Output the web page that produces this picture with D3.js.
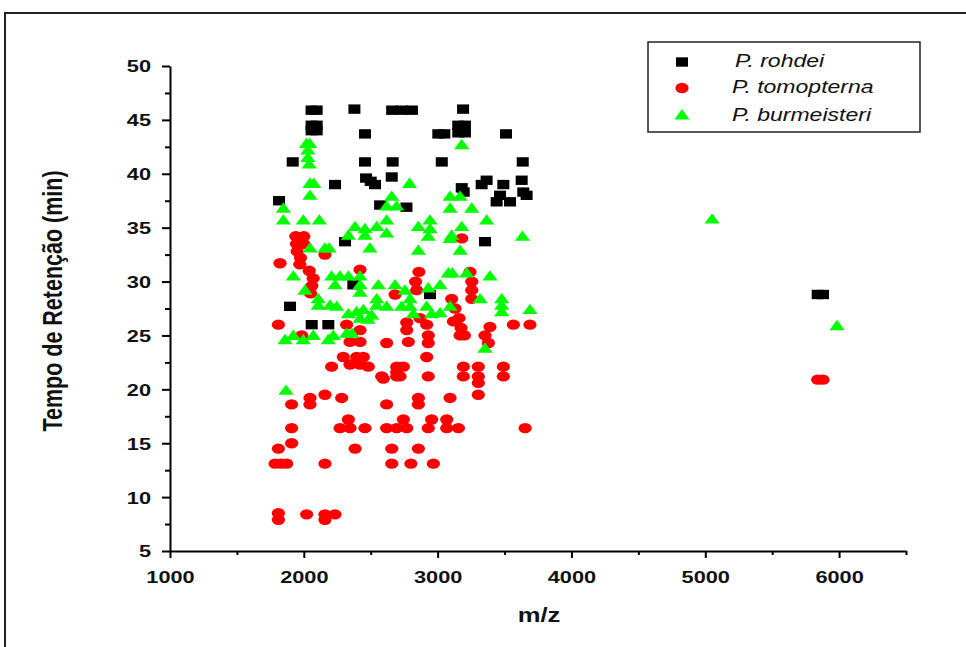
<!DOCTYPE html>
<html>
<head>
<meta charset="utf-8">
<script src="https://cdn.jsdelivr.net/npm/d3@7"></script>
<style>
  body { margin: 0; background: #fff; }
  svg text { font-family: "Liberation Sans", Arial, sans-serif; }
</style>
</head>
<body>
<div id="chart"></div>
<script>
var seriesNames = ["P. rohdei", "P. tomopterna", "P. burmeisteri"];
var seriesColors = ["#000000", "#ff0000", "#00ff00"];

// [m/z, retention time (min)]
var rohdei = [
  [1815,37.5],[1897,27.7],[1917,41.1],
  [2058,45.9],[2096,45.9],[2058,44.5],[2096,44.5],[2058,44.0],[2096,44.0],
  [2059,26.0],[2183,26.0],[2233,39.0],[2308,33.7],[2370,29.7],[2378,46.0],
  [2457,43.7],[2457,41.1],[2465,39.6],[2500,39.3],[2532,39.0],[2570,37.1],
  [2660,45.9],[2733,45.9],[2808,45.9],[2664,41.1],[2657,39.7],[2767,36.9],
  [2943,28.8],[3005,43.7],[3050,43.7],[3031,41.1],
  [3190,46.0],[3154,44.5],[3204,44.5],[3154,43.8],[3204,43.8],
  [3180,38.7],[3195,38.3],[3329,39.0],[3366,39.4],[3354,33.7],
  [3441,37.4],[3466,38.0],[3491,39.0],[3511,43.7],[3541,37.4],
  [3628,39.4],[3636,41.1],[3640,38.3],[3665,38.0],
  [5840,28.8],[5880,28.8]
];

var tomopterna = [
  [1940,34.2],[2000,34.2],[1945,33.5],[2000,33.5],[1950,32.8],[1975,32.2],[1970,31.6],
  [2040,31.0],[2070,30.3],[2060,29.6],[2050,28.9],
  [1822,31.7],[2158,32.5],[1810,26.0],[1984,25.0],
  [2420,31.1],[2682,28.8],
  [2320,26.0],[2420,25.5],[2345,24.4],[2420,24.4],[2619,24.3],[2295,23.0],[2395,23.0],[2445,23.0],
  [2345,22.3],[2420,22.3],[2482,22.1],[2208,22.1],[2694,22.1],[2694,21.6],[2594,21.0],[2719,21.2],
  [2769,26.2],[2769,25.5],[2781,24.4],
  [3180,34.0],[2860,30.9],[2835,30.0],[2843,29.2],
  [3105,28.4],[3130,27.5],[3160,26.6],[3175,25.7],[3168,25.0],[3200,25.0],
  [3242,30.9],[3255,30.0],[3255,29.2],[3255,28.4],
  [2868,26.6],[2918,26.0],[2930,25.0],[2930,24.3],
  [3118,26.3],[3354,25.0],[3391,25.8],[3379,24.3],[3566,26.0],[3690,26.0],
  [2918,23.0],[2744,22.1],[2930,21.2],[3192,22.1],[3192,21.2],[3304,22.1],[3304,21.2],[3304,20.6],
  [3491,22.1],[3491,21.2],
  [1909,18.6],[2046,19.2],[2046,18.6],[2158,19.5],[2283,19.2],[2619,18.6],[2582,21.2],[2694,21.2],
  [2333,17.2],[2271,16.4],[2345,16.4],[2457,16.4],[1909,16.4],[2619,16.4],[2694,16.4],[2744,17.2],[2769,16.4],
  [1909,15.0],[1810,14.5],[2383,14.5],[2657,14.5],
  [1785,13.1],[1830,13.1],[1872,13.1],[2158,13.1],[2657,13.1],[2800,13.1],[2968,13.1],
  [1810,8.5],[1810,7.9],[2021,8.4],[2158,8.4],[2233,8.4],[2158,7.9],
  [2856,19.2],[2856,18.6],[3093,19.2],[3304,19.5],
  [2955,17.2],[2930,16.4],[3068,17.2],[3068,16.4],[3155,16.4],[3654,16.4],[2856,14.5],
  [5840,20.9],[5880,20.9]
];

var burmeisteri = [
  [1847,36.8],[1847,35.7],[1867,19.9],[1922,30.5],[1922,25.0],[1860,24.6],[1996,24.6],[1996,35.7],[2009,29.2],
  [2020,42.8],[2045,42.8],[2030,42.2],[2030,41.5],[2040,40.9],[2046,39.1],[2075,39.1],[2046,38.0],[2116,35.7],
  [2046,33.1],[2158,33.1],[2190,33.1],[2071,25.0],[2108,28.4],[2108,27.8],[2183,24.6],[2220,25.0],
  [2196,27.8],[2246,27.7],[2208,30.5],[2233,29.7],[2270,30.5],
  [2333,34.3],[2383,35.1],[2457,34.9],[2457,34.3],[2545,35.1],[2494,33.1],[2619,34.5],[2619,35.7],
  [2619,37.0],[2657,37.9],[2694,37.0],[2790,39.1],
  [2333,30.5],[2420,30.5],[2420,29.7],[2420,29.0],[2557,29.7],[2682,29.7],[2756,29.2],[2545,28.4],
  [2333,27.0],[2395,27.2],[2445,27.4],[2507,26.9],[2420,26.6],[2480,26.5],[2545,27.8],[2619,27.7],
  [2731,27.7],[2320,25.2],[2360,25.2],
  [3180,42.7],[3093,37.9],[3168,37.9],[3093,36.8],[3255,36.8],[3366,35.7],[2943,35.7],[2856,35.1],
  [2943,34.9],[2930,34.2],[3180,35.1],[3105,34.3],[3093,34.0],[3634,34.2],
  [2856,32.9],[3168,32.9],[3080,30.8],[3110,30.8],[3217,30.8],[3391,30.5],[3018,29.7],[2930,29.4],
  [2794,28.4],[2794,27.7],[3317,28.4],[3479,28.4],[3479,27.8],[3479,27.2],[3690,27.4],[2918,27.7],
  [2955,27.0],[3018,27.1],[3093,27.7],[2819,27.0],[3354,23.8],
  [5051,35.8],[5985,25.9]
];

var xTicks = [1000, 2000, 3000, 4000, 5000, 6000];
var xMinorTicks = [1500, 2500, 3500, 4500, 5500, 6500];
var yTicks = [5, 10, 15, 20, 25, 30, 35, 40, 45, 50];
var yMinorTicks = [7.5, 12.5, 17.5, 22.5, 27.5, 32.5, 37.5, 42.5, 47.5];

var width = 966,
  height = 647,
  sx = 1.28; // the source picture is stretched horizontally

var svg = d3.select("#chart").append("svg")
  .attr("width", width)
  .attr("height", height);

// outer frame
svg.append("rect")
  .attr("x", 5).attr("y", 13)
  .attr("width", 1000).attr("height", 700)
  .style("fill", "none")
  .style("stroke", "#222")
  .style("stroke-width", 2);

var x = d3.scaleLinear().domain([1000, 6500]).range([170, 906]);
var y = d3.scaleLinear().domain([5, 50]).range([551, 66]);

// minor ticks
svg.append("g")
  .attr("transform", "translate(0,551)")
  .call(d3.axisBottom(x).tickValues(xMinorTicks).tickSize(4).tickFormat("").tickSizeOuter(0))
  .call(function(g) { g.select(".domain").remove(); })
  .selectAll("line").style("stroke-width", 2);

svg.append("g")
  .attr("transform", "translate(170,0)")
  .call(d3.axisLeft(y).tickValues(yMinorTicks).tickSize(5).tickFormat("").tickSizeOuter(0))
  .call(function(g) { g.select(".domain").remove(); })
  .selectAll("line").style("stroke-width", 2);

// major axes
var xAxis = svg.append("g")
  .attr("transform", "translate(0,551)")
  .call(d3.axisBottom(x).tickValues(xTicks).tickFormat(d3.format("d"))
    .tickSize(7).tickSizeOuter(0).tickPadding(0));
var yAxis = svg.append("g")
  .attr("transform", "translate(170,0)")
  .call(d3.axisLeft(y).tickValues(yTicks).tickFormat(d3.format("d"))
    .tickSize(8).tickSizeOuter(0).tickPadding(0));

[xAxis, yAxis].forEach(function(g) {
  g.select(".domain").style("stroke-width", 2).style("stroke", "#000");
  g.selectAll("line").style("stroke-width", 2).style("stroke", "#000");
});

xAxis.selectAll("text")
  .attr("y", 0).attr("dy", 0)
  .attr("transform", "translate(0,32) scale(" + sx + ",1)")
  .style("font-size", "17px").style("font-weight", "bold").style("fill", "#111");

yAxis.selectAll("text")
  .attr("x", 0).attr("dy", "0.35em")
  .attr("transform", "translate(-19,0) scale(" + sx + ",1)")
  .style("font-size", "17px").style("font-weight", "bold").style("fill", "#111");

// axis titles
svg.append("text")
  .attr("transform", "translate(539,622) scale(" + sx + ",1)")
  .style("text-anchor", "middle")
  .style("font-size", "20px").style("font-weight", "bold").style("fill", "#111")
  .text("m/z");

svg.append("text")
  .attr("transform", "translate(62,301) scale(" + sx + ",1) rotate(-90)")
  .style("text-anchor", "middle")
  .style("font-size", "21.5px").style("font-weight", "bold").style("fill", "#111")
  .text("Tempo de Retenção (min)");

// markers
var symbols = [
  d3.symbol().type(d3.symbolSquare).size(88),
  d3.symbol().type(d3.symbolCircle).size(84),
  d3.symbol().type(d3.symbolTriangle).size(62)
];
var allSeries = [rohdei, tomopterna, burmeisteri];

allSeries.forEach(function(data, i) {
  svg.append("g").selectAll("path")
    .data(data)
    .enter()
    .append("path")
    .attr("d", symbols[i])
    .attr("transform", function(d) {
      var dy = i == 2 ? 1 : 0;
      return "translate(" + x(d[0]) + "," + (y(d[1]) + dy) + ") scale(" + sx + ",1)";
    })
    .style("fill", seriesColors[i]);
});

// legend
var legend = svg.append("g");
legend.append("rect")
  .attr("x", 648).attr("y", 42)
  .attr("width", 272).attr("height", 90)
  .style("fill", "#fff")
  .style("stroke", "#222")
  .style("stroke-width", 1.5);

var legendY = [62, 88, 116];
var legendTextX = [735, 732, 732];
seriesNames.forEach(function(name, i) {
  legend.append("path")
    .attr("d", symbols[i])
    .attr("transform", "translate(682," + legendY[i] + ") scale(" + sx + ",1)")
    .style("fill", seriesColors[i]);
  legend.append("text")
    .attr("transform", "translate(" + legendTextX[i] + "," + (legendY[i] + 5) + ") scale(" + sx + ",1)")
    .style("font-size", "18px").style("font-style", "italic").style("fill", "#111")
    .text(name);
});
</script>
</body>
</html>
